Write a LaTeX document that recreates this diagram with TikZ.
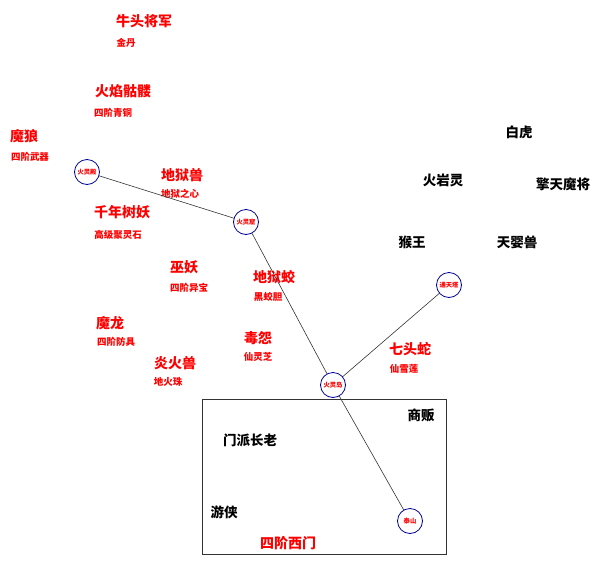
\documentclass[tikz,border=0pt]{standalone}
\usepackage{fontspec}
\usepackage{xcolor}
\newfontfamily\cjk{Noto Sans CJK SC}
\usetikzlibrary{positioning}

\begin{document}
\begin{tikzpicture}[
            x=1pt, y=-1pt,
            boss/.style={font=\cjk\bfseries\fontsize{14}{16}\selectfont, text=red, inner sep=0pt},
            loot/.style={font=\cjk\bfseries\fontsize{9.5}{11}\selectfont, text=red, inner sep=0pt},
            npc/.style={font=\cjk\bfseries\fontsize{13.5}{15}\selectfont, text=black, inner sep=0pt},
            spot/.style={circle, draw=blue!60!black, line width=0.8pt, fill=white, minimum size=25pt, inner sep=0pt,
                         font=\cjk\bfseries\fontsize{6.3}{7}\selectfont, text=red},
            road/.style={draw=black!80, line width=0.6pt}
        ]
        \useasboundingbox (0,0) rectangle (600,560);

        % Monsters and their drops
        \node[boss] (niutou) at (144,21) {牛头将军};
        \node[loot] (jindan) at (126,43) {金丹};
        \node[boss] (kulou) at (123,91) {火焰骷髅};
        \node[loot] (qingtong) at (113,113) {四阶青铜};
        \node[boss] (molang) at (24,136) {魔狼};
        \node[loot] (wuqi) at (30,157) {四阶武器};
        \node[boss] (diyushou) at (182,175) {地狱兽};
        \node[loot] (zhixin) at (180,194) {地狱之心};
        \node[boss] (shuyao) at (122,212) {千年树妖};
        \node[loot] (lingshi) at (118,235) {高级聚灵石};
        \node[boss] (wuyao) at (184,267) {巫妖};
        \node[loot] (yibao) at (189,288) {四阶异宝};
        \node[boss] (jiao) at (274,277) {地狱蛟};
        \node[loot] (jiaodan) at (268,297) {黑蛟胆};
        \node[boss] (molong) at (110,323) {魔龙};
        \node[loot] (fangju) at (116,342) {四阶防具};
        \node[boss] (duyuan) at (258,338) {毒怨};
        \node[loot] (lingzhi) at (258,357) {仙灵芝};
        \node[boss] (yanhuo) at (175,363) {炎火兽};
        \node[loot] (huozhu) at (168,382) {地火珠};
        \node[boss] (shetou) at (410,349) {七头蛇};
        \node[loot] (xuelian) at (404,369) {仙雪莲};

        % Other names
        \node[npc] (baihu) at (519,132) {白虎};
        \node[npc] (yanling) at (443,180) {火岩灵};
        \node[npc] (mojiang) at (563,184) {擎天魔将};
        \node[npc] (houwang) at (412,242) {猴王};
        \node[npc] (tianying) at (517,242) {天婴兽};

        % Town
        \draw[black!80, line width=0.8pt] (202,399) rectangle (446,554);
        \node[npc] (shangfan) at (421,415) {商贩};
        \node[npc] (zhanglao) at (250,440) {门派长老};
        \node[npc] (youxia) at (224,512) {游侠};
        \node[boss] (ximen) at (288,543) {四阶西门};

        % Roads
        \coordinate (p1) at (87,172);
        \coordinate (p2) at (246,222);
        \coordinate (p3) at (449,285);
        \coordinate (p4) at (333,385);
        \coordinate (p5) at (410,521);
        \draw[road] (p1) -- (p2);
        \draw[road] (p2) -- (p4);
        \draw[road] (p4) -- (p3);
        \draw[road] (p4) -- (p5);

        % Places
        \node[spot] (dian) at (p1) {火灵殿};
        \node[spot] (ku) at (p2) {火灵窟};
        \node[spot] (ta) at (p3) {通天塔};
        \node[spot] (dao) at (p4) {火灵岛};
        \node[spot] (taishan) at (p5) {泰山};

        \end{tikzpicture}
\end{document}
